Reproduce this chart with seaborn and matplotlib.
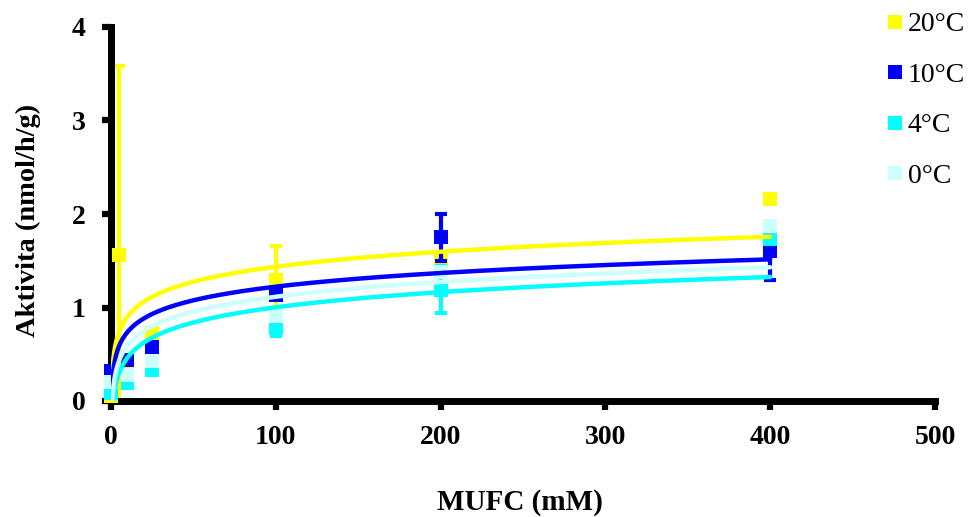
import numpy as np
import pandas as pd
import matplotlib
matplotlib.use("Agg")
import matplotlib.pyplot as plt
from matplotlib.lines import Line2D
import seaborn as sns

# ---- data ----
series = ["20°C", "10°C", "4°C", "0°C"]
colors = ["#FFFF00", "#0000FF", "#00FFFF", "#CCFFFF"]

x_20 = [0, 5, 10, 25, 100, 200, 400]
y_20 = [0.05, 1.56, 0.40, 0.73, 1.29, 1.52, 2.16]
x_10 = [0, 10, 25, 100, 200, 400]
y_10 = [0.32, 0.44, 0.58, 1.13, 1.75, 1.60]
x_4 = [0, 10, 25, 100, 200, 400]
y_4 = [0.09, 0.19, 0.33, 0.78, 1.19, 1.73]
x_0 = [0, 10, 25, 100, 200, 400]
y_0 = [0.20, 0.28, 0.43, 0.91, 1.38, 1.875]

# error bars (only where visible)
ex_20 = [5, 100]
ey_20 = [1.56, 1.29]
ee_20 = [2.02, 0.37]
ex_10 = [200, 400]
ey_10 = [1.75, 1.60]
ee_10 = [0.25, 0.31]
ex_4 = [100, 200]
ey_4 = [0.78, 1.19]
ee_4 = [0.09, 0.25]

# logarithmic trendlines y = a*ln(x) + b (coefficients)
trend_a = [0.2316, 0.2106, 0.2338, 0.2273]
trend_b = [0.3695, 0.2530, -0.0746, 0.0683]

x_ticks = [0, 100, 200, 300, 400, 500]
y_ticks = [0, 1, 2, 3, 4]

# ---- build tables ----
pts = pd.concat([
    pd.DataFrame({"x": x_20, "y": y_20, "s": series[0]}),
    pd.DataFrame({"x": x_10, "y": y_10, "s": series[1]}),
    pd.DataFrame({"x": x_4, "y": y_4, "s": series[2]}),
    pd.DataFrame({"x": x_0, "y": y_0, "s": series[3]}),
], ignore_index=True)

xs = np.geomspace(0.05, 400, 800)
curves = pd.concat([
    pd.DataFrame({"x": xs, "y": a * np.log(xs) + b, "s": s})
    for s, a, b in zip(series, trend_a, trend_b)
], ignore_index=True)

errs = [(ex_20, ey_20, ee_20, colors[0]),
        (ex_10, ey_10, ee_10, colors[1]),
        (ex_4, ey_4, ee_4, colors[2])]

# ---- style ----
sns.set_style("white")
plt.rcParams["font.family"] = ["Liberation Serif", "DejaVu Serif"]
plt.rcParams["text.color"] = "black"
plt.rcParams["axes.labelcolor"] = "black"
plt.rcParams["xtick.color"] = "black"
plt.rcParams["ytick.color"] = "black"

fig = plt.figure(figsize=(9.68, 5.17), dpi=100)
ax = fig.add_axes([111 / 968, 1 - 401 / 517, (935 - 111) / 968, (401 - 27) / 517])

palette = dict(zip(series, colors))

for i, s in enumerate(series):
    sub = pts[pts["s"] == s]
    for ex, ey, ee, c in errs:
        if c == colors[i]:
            ax.errorbar(ex, ey, yerr=ee, fmt="none", ecolor=c, elinewidth=3,
                        capsize=4.5, capthick=3, zorder=2 + i * 0.1)
    sns.scatterplot(data=sub, x="x", y="y", color=colors[i], marker="s", s=100,
                    edgecolor="none", linewidth=0, ax=ax, legend=False,
                    zorder=2.05 + i * 0.1, clip_on=False)

sns.lineplot(data=curves, x="x", y="y", hue="s", palette=palette, hue_order=series,
             linewidth=3.2, ax=ax, legend=False, zorder=3, sort=False,
             estimator=None)

ax.set_xlim(0, 500)
ax.set_ylim(0, 4)
ax.set_xticks(x_ticks)
ax.set_yticks(y_ticks)
ax.set_xticklabels([str(t) for t in x_ticks], fontsize=20, fontweight="bold",
                   color="black")
ax.set_yticklabels([str(t) for t in y_ticks], fontsize=20, fontweight="bold",
                   color="black")

for side in ["top", "right"]:
    ax.spines[side].set_visible(False)
for side in ["left", "bottom"]:
    ax.spines[side].set_linewidth(5)
    ax.spines[side].set_color("black")
    ax.spines[side].set_capstyle("projecting")
    ax.spines[side].set_zorder(2.01)
ax.tick_params(axis="y", direction="out", length=6.5, width=4.5, pad=12,
               left=True, color="black", labelcolor="black")
ax.tick_params(axis="x", direction="out", length=6.5, width=4.5, pad=11,
               bottom=True, color="black", labelcolor="black")
ax.grid(False)

ax.set_xlabel("MUFC (mM)", fontsize=21, fontweight="bold", color="black")
ax.xaxis.label.set_va("center")
ax.xaxis.set_label_coords((520 - 111) / 824, (401 - 502) / 374)
ax.set_ylabel("Aktivita (nmol/h/g)", fontsize=20.5, fontweight="bold", color="black")
ax.yaxis.label.set_va("center")
ax.yaxis.set_label_coords((28 - 111) / 824, (401 - 220) / 374)

handles = [Line2D([0], [0], marker="s", linestyle="none", color=c,
                  markersize=9.5, markeredgewidth=0) for c in colors]
leg = fig.legend(handles, series, loc="upper left",
                 bbox_to_anchor=(887 / 968, 1 - 12 / 517), frameon=False,
                 fontsize=20, handlelength=0.6, handletextpad=0.15,
                 labelspacing=0.9, borderpad=0, borderaxespad=0)
for t in leg.get_texts():
    t.set_color("black")

fig.savefig("out.png", dpi=100)
